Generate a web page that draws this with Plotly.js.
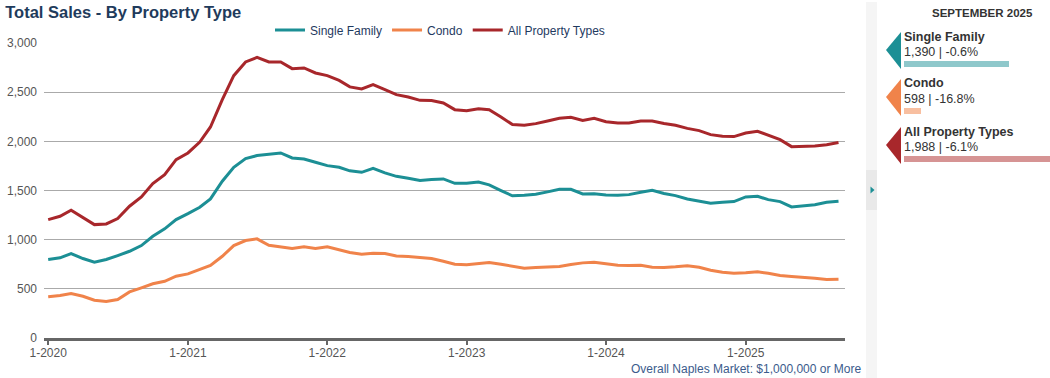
<!DOCTYPE html>
<html>
<head>
<meta charset="utf-8">
<script src="https://cdn.plot.ly/plotly-3.0.1.min.js"></script>
<style>
html,body{margin:0;padding:0;background:#fff;}
#chart{width:1050px;height:378px;}
</style>
</head>
<body>
<div id="chart"></div>
<script>
// ---- data ----
const startYear = 2020, startMonth = 1, monthCount = 69; // Jan 2020 .. Sep 2025
const seriesNames = ["Single Family", "Condo", "All Property Types"];
const singleFamily = [798,815,859,808,771,798,838,882,940,1035,1110,1204,1265,1330,1415,1594,1736,1824,1855,1872,1882,1831,1821,1787,1753,1736,1700,1685,1726,1679,1644,1624,1601,1611,1618,1573,1573,1587,1557,1499,1446,1451,1461,1486,1512,1512,1465,1468,1455,1451,1458,1482,1502,1470,1448,1414,1394,1370,1380,1387,1435,1441,1407,1387,1333,1346,1356,1380,1390];
const condo = [419,432,452,425,384,371,391,469,510,551,577,628,652,695,737,831,940,991,1008,943,927,910,927,910,927,899,869,852,862,859,835,828,821,808,780,750,744,757,767,750,730,709,716,720,727,747,764,770,754,740,737,740,720,718,724,734,720,689,669,659,663,673,659,635,625,618,608,595,598];
const allTypes = [1204,1238,1299,1228,1153,1160,1214,1340,1435,1570,1662,1814,1882,1992,2146,2424,2668,2807,2854,2807,2807,2739,2746,2695,2668,2620,2554,2532,2576,2525,2475,2451,2417,2414,2390,2322,2312,2332,2322,2248,2170,2163,2180,2207,2234,2244,2213,2234,2200,2187,2187,2207,2207,2182,2163,2132,2109,2068,2051,2048,2085,2102,2058,2017,1946,1946,1953,1966,1988];
const panelMonth = "SEPTEMBER 2025";
const panelValues = ["1,390 | -0.6%", "598 | -16.8%", "1,988 | -6.1%"];
const yTickVals = [0,500,1000,1500,2000,2500,3000];
const yTickText = ["0","500","1,000","1,500","2,000","2,500","3,000"];
const noteText = "Overall Naples Market: $1,000,000 or More";

// ---- styles ----
const lineColors = ["#1c8f95", "#f0834a", "#a8272b"];
const barColors = ["#8fc8cb", "#f8bfa0", "#d69494"];
const barPx = [105, 17, 146];
const FONT = "Liberation Sans, Arial, Helvetica, sans-serif";

const months = [];
for (let i = 0; i < monthCount; i++) {
  const m0 = startMonth - 1 + i;
  const y = startYear + Math.floor(m0 / 12);
  const m = (m0 % 12) + 1;
  months.push(y + "-" + String(m).padStart(2, "0") + "-01");
}

// plot area in pixels
const L = 44, R = 845, T = 43, B = 338;
const px = p => (p - L) / (R - L);
const py = p => (B - p) / (B - T);

const series = [singleFamily, condo, allTypes];
const traces = series.map((vals, k) => ({
  type: "scatter", mode: "lines", name: seriesNames[k],
  x: months, y: vals,
  line: {color: lineColors[k], width: 3},
  hoverinfo: "skip"
}));

const shapes = [];
const annotations = [];

// side strip
shapes.push({type:"rect", xref:"paper", yref:"paper", x0:px(866), x1:px(877), y0:py(2), y1:py(378), fillcolor:"#f5f5f5", line:{width:0}, layer:"below"});
shapes.push({type:"rect", xref:"paper", yref:"paper", x0:px(866), x1:px(877), y0:py(170), y1:py(210), fillcolor:"#e9e9e9", line:{width:0}, layer:"below"});
shapes.push({type:"path", xref:"paper", yref:"paper",
  path:`M ${px(870.5)} ${py(186.5)} L ${px(874.5)} ${py(190)} L ${px(870.5)} ${py(193.5)} Z`,
  fillcolor:"#1c8f95", line:{width:0}});

annotations.push({xref:"paper", yref:"paper", x:px(982), y:py(13), text:"<b>"+panelMonth+"</b>", showarrow:false, xanchor:"center", yanchor:"middle", font:{family:FONT, size:11.5, color:"#333"}});

const rowTop = [32, 79, 127];
for (let k = 0; k < 3; k++) {
  const t = rowTop[k];
  shapes.push({type:"path", xref:"paper", yref:"paper",
    path:`M ${px(886)} ${py(t+18)} L ${px(901)} ${py(t)} L ${px(901)} ${py(t+37)} Z`,
    fillcolor:lineColors[k], line:{width:0}});
  annotations.push({xref:"paper", yref:"paper", x:px(902), y:py(t+4.5), text:"<b>"+seriesNames[k]+"</b>", showarrow:false, xanchor:"left", yanchor:"middle", font:{family:FONT, size:12.5, color:"#333"}});
  annotations.push({xref:"paper", yref:"paper", x:px(902), y:py(t+20), text:panelValues[k], showarrow:false, xanchor:"left", yanchor:"middle", font:{family:FONT, size:12.5, color:"#333"}});
  shapes.push({type:"rect", xref:"paper", yref:"paper", x0:px(904), x1:px(904+barPx[k]), y0:py(t+29), y1:py(t+35), fillcolor:barColors[k], line:{width:0}});
}

annotations.push({xref:"paper", yref:"paper", x:px(862), y:py(368.5), text:noteText, showarrow:false, xanchor:"right", yanchor:"middle", borderpad:0, font:{family:FONT, size:12, color:"#3b5b8c"}});

const layout = {
  width: 1050, height: 378,
  margin: {l: L, r: 1050 - R, t: T, b: 378 - B},
  paper_bgcolor: "#fff", plot_bgcolor: "#fff",
  font: {family: FONT, size: 12, color: "#555"},
  title: {text: "<b>Total Sales - By Property Type</b>", x: 0.005, xref: "container", xanchor: "left", y: 1 - 12/378, yref: "container", yanchor: "middle", font: {family: FONT, size: 16.5, color: "#1f3b5c"}},
  showlegend: true,
  legend: {orientation: "h", x: px(440), xanchor: "center", y: py(30), yanchor: "middle", font: {family: FONT, size: 12, color: "#1f3a5f"}, bgcolor: "rgba(0,0,0,0)", itemwidth: 30, tracegroupgap: 0},
  hovermode: false,
  xaxis: {
    type: "date", range: ["2019-12-21", "2025-09-18"],
    tick0: "2020-01-01", dtick: "M12", tickformat: "%-m-%Y",
    showgrid: false, zeroline: false,
    showline: true, linecolor: "#666", linewidth: 3,
    ticks: "outside", ticklen: 4, tickcolor: "#666", tickwidth: 1.5,
    ticklabelstandoff: -2,
    tickfont: {family: FONT, size: 12, color: "#555"}
  },
  yaxis: {
    range: [0, 3000], tickvals: yTickVals, ticktext: yTickText,
    showgrid: true, gridcolor: "#aaaaaa", gridwidth: 1,
    zeroline: false, showline: false, ticks: "",
    ticklabelstandoff: 6,
    tickfont: {family: FONT, size: 12, color: "#555"}
  },
  shapes: shapes,
  annotations: annotations
};

Plotly.newPlot("chart", traces, layout, {displayModeBar: false, responsive: false});
</script>
</body>
</html>
